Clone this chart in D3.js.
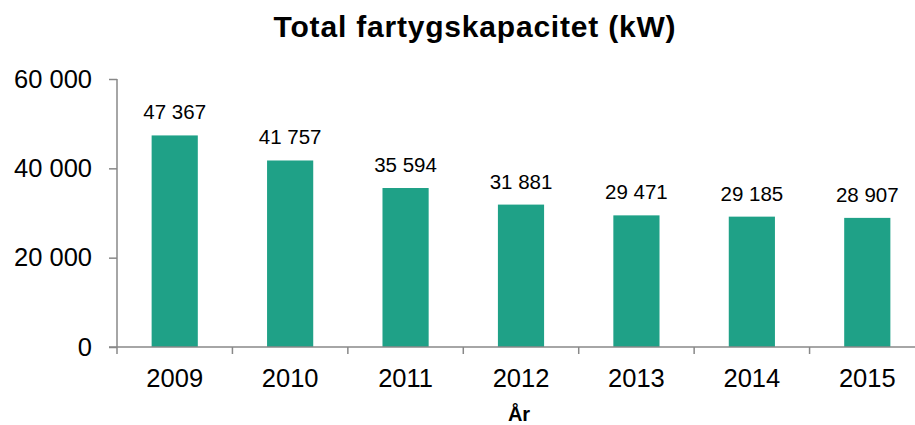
<!DOCTYPE html>
<html>
<head>
<meta charset="utf-8">
<script src="https://cdn.jsdelivr.net/npm/d3@7"></script>
<style>
  body { margin: 0; background: #fff; }
  text { font-family: "Liberation Sans", Arial, sans-serif; fill: #000; }
</style>
</head>
<body>
<svg id="chart" width="915" height="425"></svg>
<script>
const years = ['2009', '2010', '2011', '2012', '2013', '2014', '2015'];
const capacity = [47367, 41757, 35594, 31881, 29471, 29185, 28907];
const yTicks = [0, 20000, 40000, 60000];

const svg = d3.select('#chart');
const fmt = d3.formatLocale({ decimal: ',', thousands: ' ', grouping: [3], currency: ['', ''] }).format(',d');

const x = d3.scaleBand().domain(years).range([117, 925]).paddingInner(0.6).paddingOuter(0.3);
const y = d3.scaleLinear().domain([0, 60000]).range([347, 79]);

// title
svg.append('text')
    .attr('x', 475).attr('y', 37)
    .attr('text-anchor', 'middle')
    .style('font-size', '30px').style('font-weight', 'bold')
    .style('letter-spacing', '0.8px')
    .text('Total fartygskapacitet (kW)');

// bars
svg.selectAll('rect.bar')
    .data(capacity)
    .enter().append('rect')
    .attr('class', 'bar')
    .attr('x', (d, i) => x(years[i]))
    .attr('y', d => y(d))
    .attr('width', x.bandwidth())
    .attr('height', d => y(0) - y(d))
    .attr('fill', '#1fa187');

// value labels
svg.selectAll('text.val')
    .data(capacity)
    .enter().append('text')
    .attr('class', 'val')
    .attr('x', (d, i) => x(years[i]) + x.bandwidth() / 2)
    .attr('y', d => y(d) - 16)
    .attr('text-anchor', 'middle')
    .style('font-size', '20.5px')
    .text(d => fmt(d));

// y axis
const yAxis = svg.append('g')
    .attr('transform', 'translate(117,0)')
    .call(d3.axisLeft(y).tickValues(yTicks).tickFormat(fmt).tickSize(8).tickSizeOuter(0).tickPadding(17));
yAxis.selectAll('line, path').attr('stroke', '#888').attr('stroke-width', 1.5);
yAxis.selectAll('text').style('font-size', '25.5px').attr('fill', '#000');
yAxis.select('.domain').attr('d', 'M0,' + y(60000) + 'V' + (y(0) + 7));

// x axis
const xAxis = svg.append('g').attr('transform', 'translate(0,' + y(0) + ')');
xAxis.append('line')
    .attr('x1', 109).attr('x2', 925)
    .attr('stroke', '#888').attr('stroke-width', 1.5);
xAxis.selectAll('line.tick')
    .data(years.slice(1))
    .enter().append('line')
    .attr('class', 'tick')
    .attr('x1', d => x(d) - x.step() * x.paddingInner() / 2)
    .attr('x2', d => x(d) - x.step() * x.paddingInner() / 2)
    .attr('y1', 0).attr('y2', 7)
    .attr('stroke', '#888').attr('stroke-width', 1.5);
xAxis.selectAll('text.year')
    .data(years)
    .enter().append('text')
    .attr('class', 'year')
    .attr('x', d => x(d) + x.bandwidth() / 2)
    .attr('y', 40)
    .attr('text-anchor', 'middle')
    .style('font-size', '25.5px')
    .text(d => d);

svg.append('text')
    .attr('x', 519).attr('y', 421)
    .attr('text-anchor', 'middle')
    .style('font-size', '20px').style('font-weight', 'bold')
    .text('År');
</script>
</body>
</html>
